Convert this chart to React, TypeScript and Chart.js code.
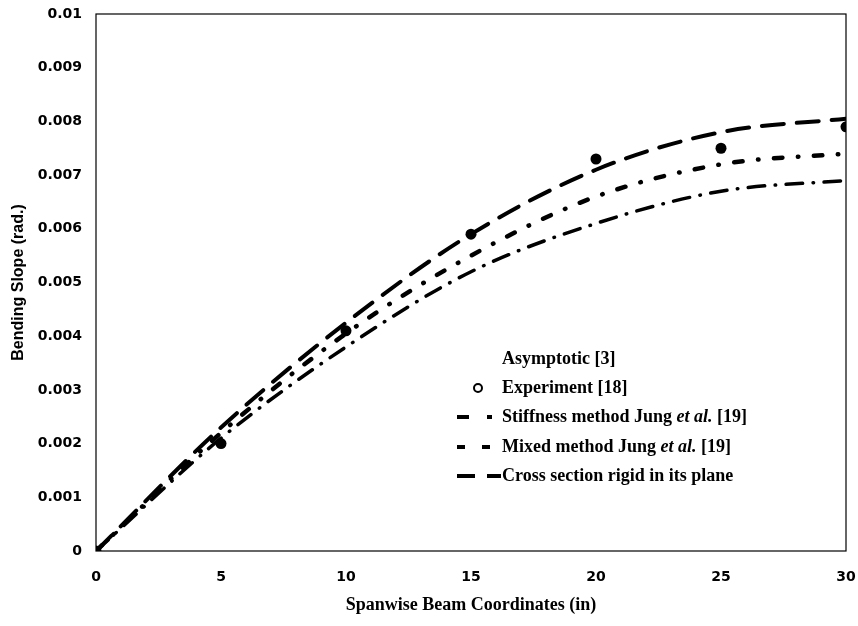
import React, { useEffect, useRef } from "react";
import { Chart, registerables } from "chart.js";

Chart.register(...registerables);

// Spanwise stations (in)
const stations = [0, 5, 10, 15, 20, 25, 30];

// Bending slope (rad.) along the span
const crossSectionRigid = [0, 0.0023, 0.00425, 0.0059, 0.0071, 0.0078, 0.00805];
const mixedMethod = [0, 0.0022, 0.00405, 0.0055, 0.0066, 0.0072, 0.0074];
const stiffnessMethod = [0, 0.0021, 0.0038, 0.0052, 0.0061, 0.0067, 0.0069];
const experiment = [0, 0.002, 0.0041, 0.0059, 0.0073, 0.0075, 0.0079];

const xTicks = [0, 5, 10, 15, 20, 25, 30];
const yTicks = [0, 0.001, 0.002, 0.003, 0.004, 0.005, 0.006, 0.007, 0.008, 0.009, 0.01];

const toPoints = (ys: number[]) => stations.map((x, i) => ({ x, y: ys[i] }));

const SERIF = "'Liberation Serif', 'Times New Roman', serif";
const SANS = "'Liberation Sans', Arial, sans-serif";
const TICK = "'DejaVu Sans', sans-serif";

// Black frame around the plotting area
const framePlugin = {
  id: "frame",
  afterDatasetsDraw(chart: any) {
    const { ctx, chartArea } = chart;
    const { left, top, right, bottom } = chartArea;
    ctx.save();
    ctx.strokeStyle = "#000";
    ctx.lineWidth = 1.2;
    ctx.strokeRect(left, top, right - left, bottom - top);
    ctx.restore();
  },
};

type Seg = { text: string; italic?: boolean };

// Legend box drawn inside the plot, in the style of the printed figure
const legendPlugin = {
  id: "paperLegend",
  afterDraw(chart: any) {
    const { ctx, chartArea } = chart;
    const { left, top } = chartArea;
    const textX = left + 406;
    ctx.save();
    ctx.fillStyle = "#000";
    ctx.strokeStyle = "#000";
    ctx.textBaseline = "middle";
    ctx.textAlign = "left";

    const drawText = (y: number, segs: Seg[]) => {
      let x = textX;
      for (const s of segs) {
        ctx.font = `${s.italic ? "italic " : ""}bold 18px ${SERIF}`;
        ctx.fillText(s.text, x, y);
        x += ctx.measureText(s.text).width;
      }
    };
    const dash = (y: number, x0: number, x1: number) => {
      ctx.beginPath();
      ctx.lineWidth = 4;
      ctx.lineCap = "butt";
      ctx.moveTo(left + x0, y);
      ctx.lineTo(left + x1, y);
      ctx.stroke();
    };

    const rows = [top + 345, top + 374, top + 403, top + 433, top + 462];

    drawText(rows[0], [{ text: "Asymptotic [3]" }]);

    ctx.beginPath();
    ctx.lineWidth = 2;
    ctx.arc(left + 382, rows[1], 4, 0, Math.PI * 2);
    ctx.stroke();
    drawText(rows[1], [{ text: "Experiment [18]" }]);

    dash(rows[2], 361, 373);
    dash(rows[2], 391, 396);
    drawText(rows[2], [
      { text: "Stiffness method Jung " },
      { text: "et al.", italic: true },
      { text: " [19]" },
    ]);

    dash(rows[3], 361, 369);
    dash(rows[3], 386, 394);
    drawText(rows[3], [
      { text: "Mixed method Jung " },
      { text: "et al.", italic: true },
      { text: " [19]" },
    ]);

    dash(rows[4], 361, 379);
    dash(rows[4], 391, 405);
    drawText(rows[4], [{ text: "Cross section rigid in its plane" }]);

    ctx.restore();
  },
};

export default function App() {
  const canvasRef = useRef<HTMLCanvasElement | null>(null);

  useEffect(() => {
    if (!canvasRef.current) return;
    Chart.defaults.color = "#000";

    const lineBase = {
      pointRadius: 0,
      fill: false,
      borderColor: "#000",
      borderCapStyle: "round" as const,
      cubicInterpolationMode: "monotone" as const,
    };

    const chart = new Chart(canvasRef.current, {
      type: "line",
      data: {
        datasets: [
          {
            ...lineBase,
            label: "Cross section rigid in its plane",
            data: toPoints(crossSectionRigid),
            borderWidth: 4,
            borderDash: [22, 13],
          },
          {
            ...lineBase,
            label: "Mixed method Jung et al. [19]",
            data: toPoints(mixedMethod),
            borderWidth: 4.5,
            borderDash: [8.5, 15.5, 0.5, 15.5],
          },
          {
            ...lineBase,
            label: "Stiffness method Jung et al. [19]",
            data: toPoints(stiffnessMethod),
            borderWidth: 3.5,
            borderDash: [16.5, 10.5, 0.5, 10.5],
          },
          {
            label: "Experiment [18]",
            data: toPoints(experiment),
            showLine: false,
            pointRadius: 5.5,
            pointBackgroundColor: "#000",
            pointBorderColor: "#000",
            pointBorderWidth: 0,
          },
        ],
      },
      options: {
        animation: false,
        responsive: false,
        layout: { padding: { top: 14, right: 12, left: 0, bottom: 0 } },
        plugins: {
          legend: { display: false },
          tooltip: { enabled: false },
        },
        scales: {
          x: {
            type: "linear",
            min: 0,
            max: 30,
            afterBuildTicks: (scale: any) => {
              scale.ticks = xTicks.map((v) => ({ value: v }));
            },
            afterFit: (scale: any) => {
              scale.height = 75;
              scale.paddingLeft = 0;
              scale.paddingRight = 0;
            },
            grid: { display: false, drawTicks: false },
            border: { display: false },
            ticks: {
              padding: 18,
              font: { family: TICK, size: 14, weight: "bold" },
              color: "#000",
              maxRotation: 0,
            },
            title: {
              display: true,
              text: "Spanwise Beam Coordinates (in)",
              font: { family: SERIF, size: 18, weight: "bold" },
              color: "#000",
              padding: { top: 0, bottom: 10 },
            },
          },
          y: {
            type: "linear",
            min: 0,
            max: 0.01,
            afterBuildTicks: (scale: any) => {
              scale.ticks = yTicks.map((v) => ({ value: v }));
            },
            afterFit: (scale: any) => {
              scale.width = 96;
              scale.paddingTop = 0;
              scale.paddingBottom = 0;
            },
            grid: { display: false, drawTicks: false },
            border: { display: false },
            ticks: {
              padding: 14,
              font: { family: TICK, size: 14, weight: "bold" },
              color: "#000",
              callback: (v: any) => (Number(v) === 0 ? "0" : String(Number(Number(v).toFixed(3)))),
            },
            title: {
              display: true,
              text: "Bending Slope (rad.)",
              font: { family: SANS, size: 16, weight: "bold" },
              color: "#000",
              padding: { top: 9, bottom: 0 },
            },
          },
        },
      },
      plugins: [framePlugin, legendPlugin],
    });

    return () => chart.destroy();
  }, []);

  return (
    <div style={{ position: "fixed", left: 0, top: 0, width: 858, height: 626, background: "#fff" }}>
      <canvas ref={canvasRef} width={858} height={626} />
    </div>
  );
}
